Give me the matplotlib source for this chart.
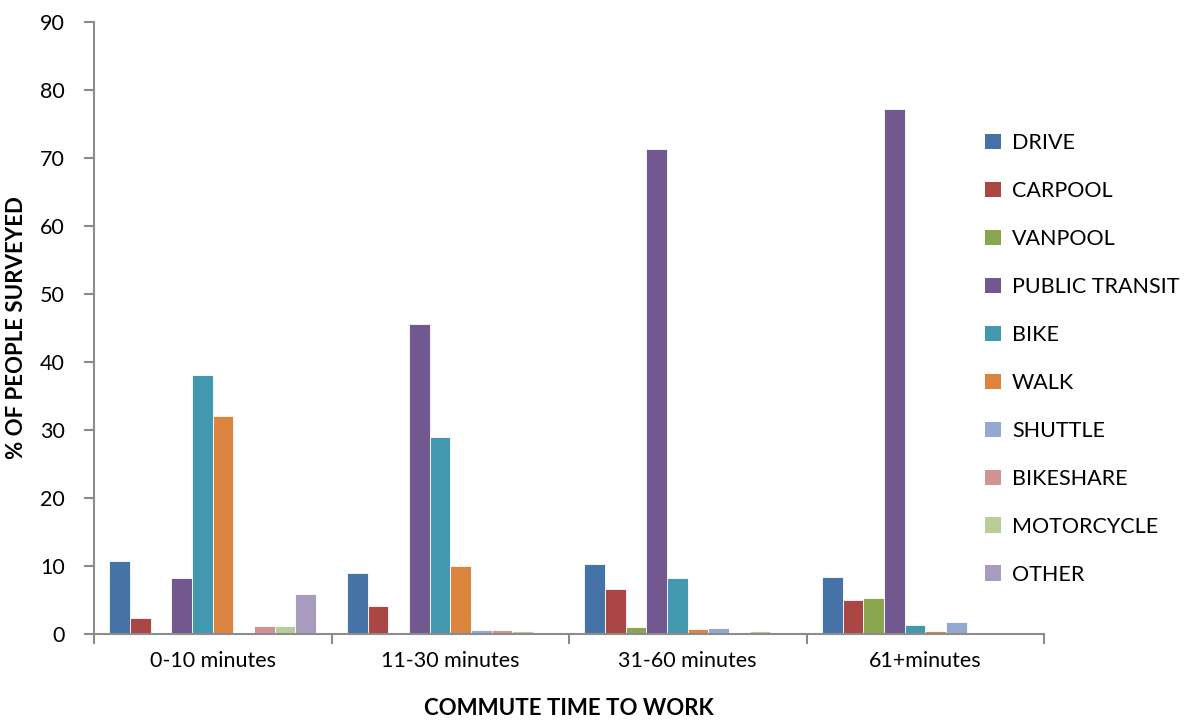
import numpy as np
import matplotlib
matplotlib.use("Agg")
import matplotlib.pyplot as plt
from matplotlib.patches import Patch

plt.rcParams['font.family'] = ['Lato', 'DejaVu Sans']

categories = ['0-10 minutes', '11-30 minutes', '31-60 minutes', '61+minutes']
modes = ['DRIVE', 'CARPOOL', 'VANPOOL', 'PUBLIC TRANSIT', 'BIKE', 'WALK',
         'SHUTTLE', 'BIKESHARE', 'MOTORCYCLE', 'OTHER']

drive = [10.7, 9.0, 10.3, 8.4]
carpool = [2.35, 4.1, 6.55, 5.0]
vanpool = [0.0, 0.0, 1.0, 5.25]
public_transit = [8.3, 45.6, 71.3, 77.2]
bike = [38.1, 28.9, 8.2, 1.3]
walk = [32.1, 10.0, 0.7, 0.5]
shuttle = [0.0, 0.6, 0.9, 1.8]
bikeshare = [1.15, 0.6, 0.0, 0.1]
motorcycle = [1.15, 0.4, 0.45, 0.0]
other = [5.9, 0.15, 0.15, 0.15]

series = [drive, carpool, vanpool, public_transit, bike, walk,
          shuttle, bikeshare, motorcycle, other]
colors = ['#4572A7', '#AA4643', '#89A54E', '#71588F', '#4198AF', '#DB843D',
          '#93A9CF', '#D19392', '#B9CD96', '#A99BBD']

fig = plt.figure(figsize=(11.9, 7.21), dpi=100)
ax = fig.add_axes([94 / 1190, 87 / 721, 950 / 1190, 612 / 721])

n = len(series)
x = np.arange(len(categories))
w = 1.0 / (n + 1.5)
for i, (vals, c) in enumerate(zip(series, colors)):
    pos = x - (n * w) / 2 + w * (i + 0.5)
    ax.bar(pos, vals, width=w, color=c, edgecolor='white', linewidth=0.6)

ax.set_xlim(-0.5, len(categories) - 0.5)
ax.set_ylim(0, 90)
ax.set_yticks(range(0, 91, 10))
ax.set_xticks(x)
ax.set_xticklabels(categories)
ax.set_xticks(np.arange(-0.5, len(categories)), minor=True)
ax.tick_params(axis='x', which='major', length=0, pad=12, labelsize=15.5)
ax.tick_params(axis='x', which='minor', length=7, color='#8c8c8c', width=1.5)
ax.tick_params(axis='y', length=7, color='#8c8c8c', width=1.5, labelsize=15.5, pad=14)

for s in ['top', 'right']:
    ax.spines[s].set_visible(False)
for s in ['left', 'bottom']:
    ax.spines[s].set_color('#8c8c8c')
    ax.spines[s].set_linewidth(1.5)

ax.set_ylabel('% OF PEOPLE SURVEYED', fontsize=16, fontweight='bold', labelpad=9)
ax.set_xlabel('COMMUTE TIME TO WORK', fontsize=16, fontweight='bold', labelpad=20)

handles = [Patch(facecolor=c, edgecolor='none') for c in colors]
fig.legend(handles, modes, loc='upper left', bbox_to_anchor=(985 / 1190, 1 - 133 / 721),
           frameon=False, fontsize=15.5, handlelength=0.75, handleheight=0.75,
           handletextpad=0.5, labelspacing=1.3, borderpad=0, borderaxespad=0)

fig.savefig('out.png', dpi=100)
